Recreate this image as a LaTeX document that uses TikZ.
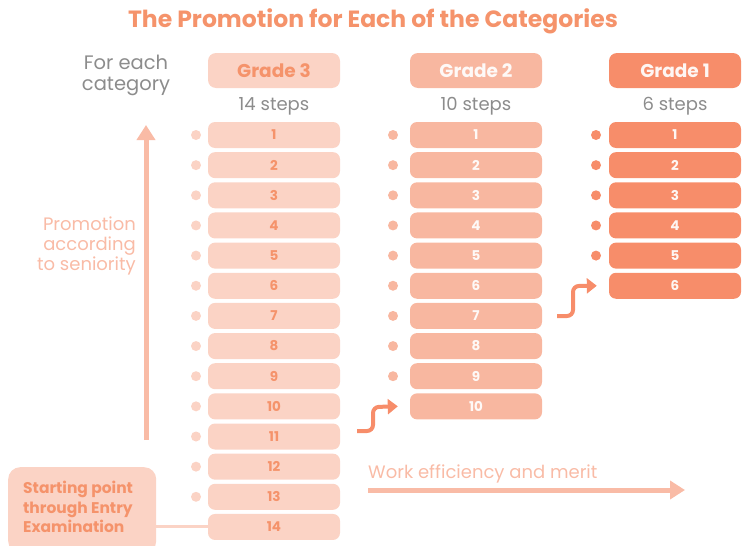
\documentclass[tikz,border=0pt]{standalone}
\usepackage{fontspec}
\setmainfont{Poppins}
\usetikzlibrary{arrows.meta}
\definecolor{gthree}{HTML}{FBD3C5}
\definecolor{gtwo}{HTML}{F8B7A0}
\definecolor{gone}{HTML}{F78D6A}
\definecolor{otext}{HTML}{F5936B}
\definecolor{larrow}{HTML}{F9BBA6}
\definecolor{graytext}{HTML}{8C8C8C}
\begin{document}
\begin{tikzpicture}[x=1pt,y=-1pt,
  stepbox/.style={rounded corners=7pt, minimum width=132pt, minimum height=26pt, inner sep=0pt, font=\bfseries\fontsize{13.5}{15}\selectfont},
  headbox/.style={rounded corners=8pt, minimum width=132pt, minimum height=35pt, inner sep=0pt, font=\bfseries\fontsize{18.5}{20}\selectfont},
  stepslabel/.style={font=\fontsize{18}{20}\selectfont, text=graytext, inner sep=0pt},
  dotc/.style={circle, minimum size=10pt, inner sep=0pt},
  bigarrow/.style={draw=larrow, line width=5pt, -{Triangle[length=15pt,width=18pt]}},
  curvarrow/.style={draw=gone, line width=4pt, rounded corners=6pt, -{Triangle[length=10pt,width=15pt]}},
  sidetext/.style={font=\fontsize{18}{20}\selectfont, text=larrow, align=right, inner sep=0pt}
]
\useasboundingbox (0,0) rectangle (742,546);
% title
\node[font=\bfseries\fontsize{23.5}{26}\selectfont, text=otext] (title) at (373,21) {The Promotion for Each of the Categories};
\node[font=\fontsize{19.5}{21}\selectfont, text=graytext, align=center, inner sep=0pt] (foreach) at (126,75) {For each\\category};
% headers
\node[headbox, fill=gthree, text=otext] (h3) at (274,70.5) {Grade 3};
\node[headbox, fill=gtwo, text=white!92!gtwo] (h2) at (476,70.5) {Grade 2};
\node[headbox, fill=gone, text=white!92!gone] (h1) at (675,70.5) {Grade 1};
\node[stepslabel] (s3) at (274,106) {14 steps};
\node[stepslabel] (s2) at (476,106) {10 steps};
\node[stepslabel] (s1) at (675,106) {6 steps};
% grade 3
\foreach \i in {1,...,14} {
  \node[stepbox, fill=gthree, text=otext] (a\i) at (274,{135+(\i-1)*30.15}) {\i};
}
\foreach \i in {1,...,13} {
  \node[dotc, fill=gthree] (da\i) at (196,{135+(\i-1)*30.15}) {};
}
% grade 2
\foreach \i in {1,...,10} {
  \node[stepbox, fill=gtwo, text=white!92!gtwo] (b\i) at (476,{135+(\i-1)*30.15}) {\i};
}
\foreach \i in {1,...,9} {
  \node[dotc, fill=gtwo] (db\i) at (393,{135+(\i-1)*30.15}) {};
}
% grade 1
\foreach \i in {1,...,6} {
  \node[stepbox, fill=gone, text=white!92!gone] (c\i) at (675,{135+(\i-1)*30.15}) {\i};
}
\foreach \i in {1,...,5} {
  \node[dotc, fill=gone] (dc\i) at (596,{135+(\i-1)*30.15}) {};
}
% seniority arrow
\coordinate (upbot) at (146,440);
\coordinate (uptop) at (146,125);
\draw[bigarrow] (upbot) -- (uptop);
\node[sidetext, anchor=east] (senior) at (136,246) {Promotion\\according\\to seniority};
% work efficiency
\coordinate (wl) at (368,490);
\coordinate (wr) at (685,490);
\draw[bigarrow] (wl) -- (wr);
\node[font=\fontsize{18}{20}\selectfont, text=larrow, anchor=west, inner sep=0pt] (work) at (368,474) {Work efficiency and merit};
% curved arrows
\coordinate (k1) at (357,431);
\coordinate (k1e) at ([xshift=-12pt]b10.west);
\draw[curvarrow] (k1) -- (373,431) -- (373,407) -- (k1e);
\coordinate (k2) at (557,316);
\coordinate (k2e) at ([xshift=-12pt]c6.west);
\draw[curvarrow] (k2) -- (573,316) -- (573,286) -- (k2e);
% start box
\node[fill=gthree, rounded corners=12pt, minimum width=148pt, minimum height=86pt, inner sep=0pt, anchor=north west] (startbox) at (8,467) {};
\node[font=\bfseries\fontsize{15.5}{19.5}\selectfont, text=otext, align=left, anchor=north west, inner sep=0pt] (starttext) at (23,481) {Starting point\\through Entry\\Examination};
\draw[draw=gthree, line width=3pt] (startbox.east |- a14) -- (a14.west);
\end{tikzpicture}
\end{document}
